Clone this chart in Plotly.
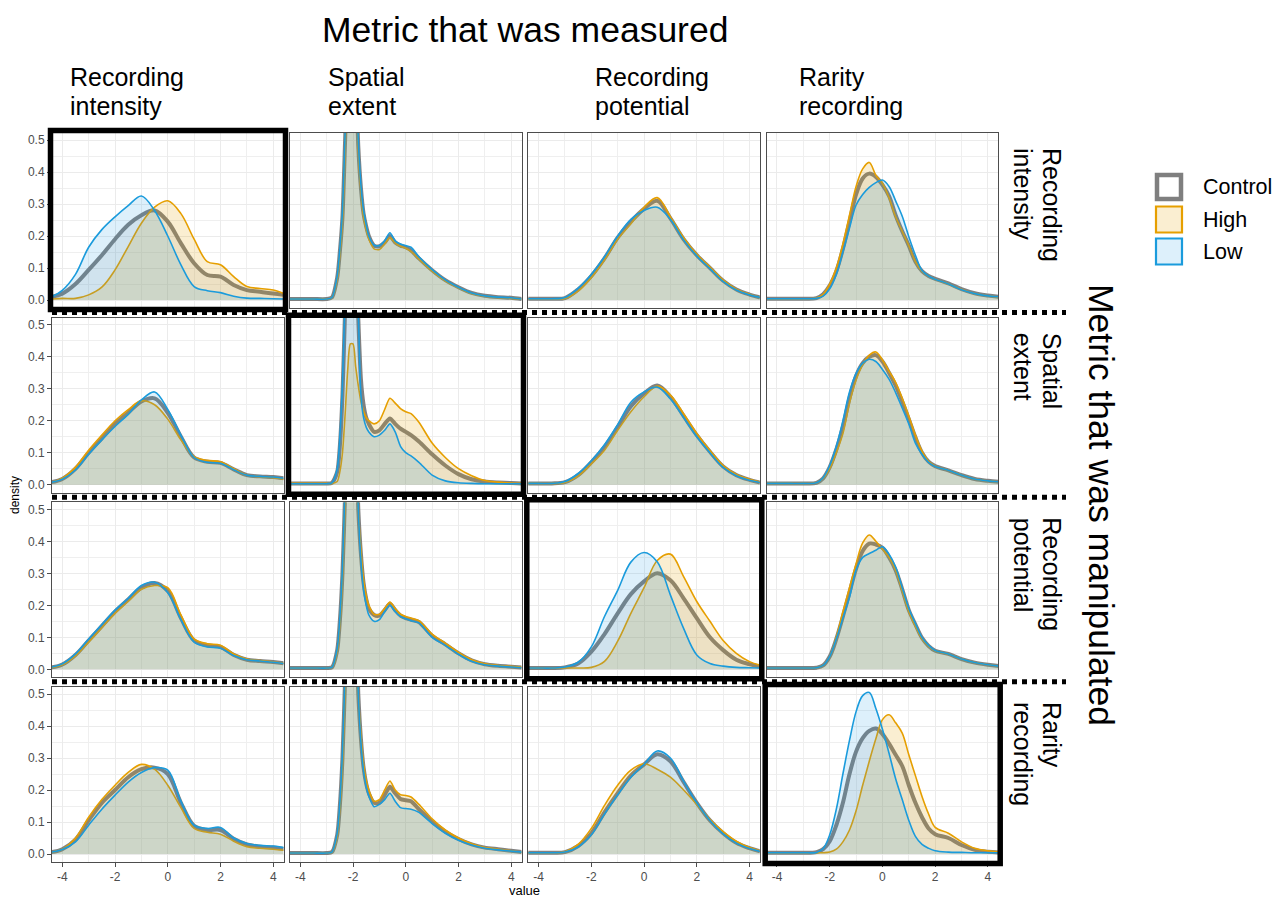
import plotly.graph_objects as go

# page offset of the figure inside the html body (default 8px body margin)
OFF = 8
W, H = 1272, 894

# ---------------- data (densities) ----------------
X_BROAD = [-4.4, -4, -3.5, -3, -2.5, -2, -1.5, -1, -0.5, 0, 0.5, 1, 1.5, 2, 2.5, 3, 3.5, 4, 4.4]
X_SPATIAL = [-4.4, -4, -3.5, -3, -2.8, -2.6, -2.5, -2.4, -2.3, -2.2, -2.1, -2.0, -1.9, -1.8, -1.7,
             -1.6, -1.5, -1.4, -1.2, -1.0, -0.8, -0.6, -0.4, -0.2, 0, 0.2, 0.5, 1, 1.5, 2, 2.5, 3, 3.5, 4, 4.4]
X_RARITY = [-4.4, -4, -3.5, -3, -2.5, -2.25, -2, -1.75, -1.5, -1.25, -1, -0.75, -0.5, -0.25, 0, 0.25,
            0.5, 0.75, 1, 1.25, 1.5, 1.75, 2, 2.5, 3, 3.5, 4, 4.4]

measured = ["Recording\nintensity", "Spatial\nextent", "Recording\npotential", "Rarity\nrecording"]
manipulated = ["Recording\nintensity", "Spatial\nextent", "Recording\npotential", "Rarity\nrecording"]
groups = ["Control", "High", "Low"]

# Row 1: manipulated = Recording intensity
r1c1_control = [.01, .02, .05, .094, .14, .19, .235, .265, .28, .245, .177, .115, .078, .073, .047, .031, .026, .02, .016]
r1c1_high = [.003, .005, .005, .016, .04, .094, .167, .24, .29, .31, .27, .19, .12, .11, .073, .042, .036, .031, .02]
r1c1_low = [.01, .03, .08, .165, .22, .26, .295, .325, .28, .2, .11, .042, .029, .023, .012, .006, .005, .004, .003]

r1c2_control = [.003, .003, .003, .003, .008, .07, .15, .26, .5, .75, .88, .88, .75, .48, .35, .27, .23, .2, .17, .168,
                .18, .2, .18, .17, .165, .155, .13, .093, .062, .04, .022, .013, .009, .007, .003]
r1c2_high = [.003, .003, .003, .003, .007, .065, .14, .25, .48, .72, .86, .86, .73, .47, .34, .26, .22, .19, .16, .158,
             .175, .195, .178, .168, .162, .152, .128, .09, .06, .038, .02, .012, .008, .006, .003]
r1c2_low = [.003, .003, .003, .003, .008, .075, .16, .28, .52, .78, .9, .9, .76, .5, .36, .28, .235, .2, .172, .17,
            .185, .21, .185, .175, .17, .165, .135, .095, .063, .04, .022, .013, .009, .007, .003]

r1c3_control = [.004, .004, .004, .006, .033, .075, .13, .195, .245, .285, .31, .255, .19, .14, .1, .06, .033, .017, .008]
r1c3_high = [.004, .004, .004, .005, .028, .07, .125, .19, .238, .29, .32, .26, .195, .143, .103, .062, .034, .018, .008]
r1c3_low = [.004, .004, .004, .008, .037, .08, .135, .2, .252, .28, .29, .252, .188, .138, .098, .058, .031, .016, .008]

r1c4_control = [.004, .004, .004, .004, .006, .018, .045, .09, .16, .245, .33, .38, .395, .385, .36, .325, .265, .215,
                .17, .12, .09, .075, .066, .052, .034, .021, .014, .01]
r1c4_high = [.004, .004, .004, .004, .006, .018, .05, .1, .175, .265, .355, .41, .43, .39, .365, .32, .26, .215,
             .17, .12, .09, .075, .065, .05, .033, .02, .013, .009]
r1c4_low = [.004, .004, .004, .004, .005, .012, .035, .08, .15, .225, .297, .33, .352, .367, .375, .355, .31, .262,
            .198, .14, .092, .075, .065, .05, .032, .02, .013, .01]

# Row 2: manipulated = Spatial extent
r2c1_control = [.008, .018, .05, .1, .145, .19, .225, .26, .27, .225, .15, .085, .072, .068, .048, .03, .026, .024, .02]
r2c1_high = [.008, .02, .055, .108, .155, .2, .235, .262, .25, .205, .14, .088, .076, .072, .05, .03, .025, .022, .017]
r2c1_low = [.008, .017, .046, .095, .14, .182, .22, .265, .29, .235, .155, .085, .07, .067, .047, .03, .026, .024, .02]

r2c2_control = [.004, .004, .004, .004, .006, .04, .12, .28, .55, .8, .95, .95, .8, .52, .33, .25, .21, .19, .165, .17,
                .19, .207, .19, .175, .165, .155, .135, .095, .06, .033, .017, .01, .007, .005, .004]
r2c2_high = [.004, .004, .004, .004, .004, .01, .04, .1, .22, .36, .44, .44, .37, .31, .26, .23, .21, .2, .19, .2,
             .235, .27, .255, .238, .228, .222, .195, .13, .085, .05, .028, .013, .008, .005, .004]
r2c2_low = [.003, .003, .003, .003, .006, .05, .15, .32, .6, .9, 1.05, 1.0, .85, .55, .28, .21, .18, .165, .15, .155,
            .17, .19, .165, .12, .1, .09, .07, .03, .012, .006, .004, .003, .003, .003, .003]

r2c3_control = [.004, .004, .004, .008, .03, .07, .118, .18, .245, .285, .31, .275, .215, .155, .103, .057, .03, .015, .007]
r2c3_high = [.004, .004, .004, .007, .027, .065, .108, .17, .228, .275, .308, .28, .222, .16, .107, .06, .032, .017, .008]
r2c3_low = [.004, .004, .004, .01, .035, .075, .125, .188, .258, .29, .305, .268, .21, .15, .1, .054, .028, .014, .007]

r2c4_control = [.004, .004, .004, .004, .006, .02, .055, .11, .18, .27, .34, .38, .4, .405, .385, .35, .31, .26,
                .205, .148, .1, .072, .058, .045, .03, .018, .012, .009]
r2c4_high = [.004, .004, .004, .004, .006, .02, .05, .1, .16, .255, .327, .375, .405, .415, .39, .355, .32, .27,
             .215, .155, .105, .073, .058, .045, .03, .018, .012, .009]
r2c4_low = [.004, .004, .004, .004, .006, .022, .06, .12, .2, .29, .348, .38, .392, .385, .36, .33, .288, .24,
            .19, .13, .095, .07, .057, .045, .03, .018, .012, .009]

# Row 3: manipulated = Recording potential
r3c1_control = [.006, .015, .045, .09, .135, .18, .218, .255, .27, .245, .16, .09, .075, .07, .045, .03, .026, .023, .019]
r3c1_high = [.006, .014, .042, .085, .13, .175, .212, .25, .262, .255, .17, .095, .08, .075, .048, .032, .027, .023, .019]
r3c1_low = [.007, .017, .048, .095, .14, .185, .222, .262, .272, .24, .155, .085, .07, .066, .043, .03, .026, .022, .018]

r3c2_control = [.004, .004, .004, .004, .006, .06, .15, .3, .55, .8, .92, .9, .75, .5, .36, .27, .22, .19, .17, .168,
                .185, .205, .185, .168, .16, .155, .148, .105, .078, .05, .028, .016, .011, .008, .006]
r3c2_high = [.004, .004, .004, .004, .006, .055, .14, .29, .53, .78, .9, .88, .74, .5, .37, .28, .23, .2, .172, .172,
             .19, .21, .19, .172, .165, .16, .152, .11, .082, .053, .03, .017, .012, .009, .006]
r3c2_low = [.004, .004, .004, .004, .006, .065, .16, .32, .58, .85, .95, .92, .77, .5, .34, .25, .2, .17, .15, .155,
            .18, .2, .18, .165, .158, .152, .145, .1, .075, .047, .025, .014, .01, .007, .005]

r3c3_control = [.004, .004, .004, .006, .018, .055, .11, .175, .235, .275, .3, .278, .222, .16, .1, .06, .03, .016, .008]
r3c3_high = [.004, .004, .004, .004, .004, .006, .025, .088, .175, .255, .34, .36, .29, .212, .15, .09, .05, .024, .013]
r3c3_low = [.004, .004, .004, .007, .022, .07, .165, .247, .335, .365, .336, .232, .128, .045, .018, .01, .006, .005, .004]

r3c4_control = [.004, .004, .004, .004, .005, .012, .04, .095, .165, .24, .315, .37, .393, .39, .38, .35, .31, .25,
                .185, .14, .098, .073, .058, .048, .032, .021, .014, .01]
r3c4_high = [.004, .004, .004, .004, .005, .012, .04, .1, .18, .255, .33, .395, .42, .4, .375, .35, .31, .245,
             .18, .135, .095, .072, .058, .048, .032, .021, .014, .01]
r3c4_low = [.004, .004, .004, .004, .005, .012, .04, .095, .16, .225, .31, .35, .362, .372, .383, .36, .32, .255,
            .19, .143, .1, .075, .059, .048, .032, .021, .014, .01]

# Row 4: manipulated = Rarity recording
r4c1_control = [.006, .015, .045, .105, .16, .2, .24, .265, .27, .25, .16, .088, .075, .075, .048, .03, .023, .02, .016]
r4c1_high = [.006, .015, .05, .115, .17, .215, .255, .28, .265, .215, .145, .08, .068, .062, .04, .023, .018, .015, .012]
r4c1_low = [.006, .014, .038, .09, .14, .184, .225, .255, .27, .262, .165, .09, .08, .083, .05, .033, .027, .025, .02]

r4c2_control = [.003, .003, .003, .003, .006, .06, .15, .3, .55, .8, .92, .9, .75, .5, .36, .27, .22, .19, .16, .16,
                .185, .21, .19, .172, .168, .165, .14, .102, .07, .047, .03, .02, .015, .01, .006]
r4c2_high = [.003, .003, .003, .003, .005, .055, .14, .28, .53, .78, .9, .88, .74, .5, .37, .28, .23, .2, .165, .17,
             .2, .228, .2, .185, .183, .178, .155, .11, .075, .05, .032, .02, .015, .01, .005]
r4c2_low = [.003, .003, .003, .003, .006, .065, .16, .32, .57, .82, .94, .92, .77, .5, .35, .26, .21, .18, .148, .155,
            .17, .19, .165, .145, .142, .14, .13, .095, .065, .043, .028, .018, .013, .009, .006]

r4c3_control = [.004, .004, .004, .006, .025, .065, .13, .19, .245, .28, .312, .29, .225, .16, .105, .065, .035, .018, .008]
r4c3_high = [.004, .004, .004, .007, .03, .08, .152, .215, .262, .282, .265, .24, .2, .155, .108, .07, .04, .02, .01]
r4c3_low = [.004, .004, .004, .006, .022, .06, .125, .185, .24, .28, .322, .3, .228, .16, .105, .063, .034, .017, .008]

r4c4_control = [.004, .004, .004, .004, .006, .015, .04, .09, .16, .25, .32, .362, .385, .392, .375, .345, .31, .275,
                .215, .16, .115, .08, .062, .05, .028, .013, .007, .005]
r4c4_high = [.004, .004, .004, .004, .004, .004, .006, .015, .038, .075, .135, .215, .29, .36, .42, .435, .41, .378,
             .31, .245, .18, .125, .083, .065, .038, .018, .01, .007]
r4c4_low = [.004, .004, .004, .004, .005, .017, .06, .14, .25, .355, .445, .495, .505, .455, .39, .315, .235, .17,
            .105, .055, .03, .018, .01, .006, .005, .004, .004, .004]

col_x = [X_BROAD, X_SPATIAL, X_BROAD, X_RARITY]
panel_data = {
    (0, 0): (r1c1_control, r1c1_high, r1c1_low), (0, 1): (r1c2_control, r1c2_high, r1c2_low),
    (0, 2): (r1c3_control, r1c3_high, r1c3_low), (0, 3): (r1c4_control, r1c4_high, r1c4_low),
    (1, 0): (r2c1_control, r2c1_high, r2c1_low), (1, 1): (r2c2_control, r2c2_high, r2c2_low),
    (1, 2): (r2c3_control, r2c3_high, r2c3_low), (1, 3): (r2c4_control, r2c4_high, r2c4_low),
    (2, 0): (r3c1_control, r3c1_high, r3c1_low), (2, 1): (r3c2_control, r3c2_high, r3c2_low),
    (2, 2): (r3c3_control, r3c3_high, r3c3_low), (2, 3): (r3c4_control, r3c4_high, r3c4_low),
    (3, 0): (r4c1_control, r4c1_high, r4c1_low), (3, 1): (r4c2_control, r4c2_high, r4c2_low),
    (3, 2): (r4c3_control, r4c3_high, r4c3_low), (3, 3): (r4c4_control, r4c4_high, r4c4_low),
}

# ---------------- styling ----------------
FONT = "Liberation Sans, Arial, sans-serif"
LINE_COL = {"Control": "rgba(115,115,115,0.9)", "High": "#E69F00", "Low": "#1A9BDC"}
FILL_COL = {"Control": "rgba(128,128,128,0.12)", "High": "rgba(230,159,0,0.18)", "Low": "rgba(30,155,225,0.15)"}
LINE_W = {"Control": 4, "High": 1.6, "Low": 1.6}

# panel geometry in page pixels
PX = [52, 290, 528.3, 766.7]
PW = 231.5
PY = [133, 317.7, 502.3, 687]
PH = 175
XR = [-4.39, 4.39]
YR = [-0.025, 0.522]


def fx(x):
    return (x - OFF) / W


def fy(y):
    return 1 - (y - OFF) / H


fig = go.Figure()
layout = dict(width=W, height=H, margin=dict(l=0, r=0, t=0, b=0),
              paper_bgcolor="white", plot_bgcolor="white", showlegend=False,
              font=dict(family=FONT, color="black"))

for r in range(4):
    for c in range(4):
        n = r * 4 + c + 1
        xs = "" if n == 1 else str(n)
        xa = dict(domain=[fx(PX[c]), fx(PX[c] + PW)], anchor="y" + xs, range=XR,
                  showline=True, mirror=True, linecolor="#4d4d4d", linewidth=1,
                  showgrid=True, gridcolor="#EBEBEB", gridwidth=1.3, zeroline=False,
                  tickvals=[-4, -2, 0, 2, 4], ticktext=["-4", "-2", "0", "2", "4"],
                  minor=dict(dtick=1, tick0=0, showgrid=True, gridcolor="#EFEFEF", gridwidth=0.7),
                  showticklabels=(r == 3), ticks="outside" if r == 3 else "",
                  ticklen=4, tickcolor="#4d4d4d", tickfont=dict(size=12, color="#4D4D4D", family=FONT))
        ya = dict(domain=[fy(PY[r] + PH), fy(PY[r])], anchor="x" + xs, range=YR,
                  showline=True, mirror=True, linecolor="#4d4d4d", linewidth=1,
                  showgrid=True, gridcolor="#EBEBEB", gridwidth=1.3, zeroline=False,
                  tick0=0, dtick=0.1, tickformat=".1f",
                  minor=dict(dtick=0.05, tick0=0, showgrid=True, gridcolor="#EFEFEF", gridwidth=0.7),
                  showticklabels=(c == 0), ticks="outside" if c == 0 else "",
                  ticklen=4, tickcolor="#4d4d4d", tickfont=dict(size=12, color="#4D4D4D", family=FONT))
        layout["xaxis" + xs] = xa
        layout["yaxis" + xs] = ya
        ser = panel_data[(r, c)]
        for g, yv in zip(groups, ser):
            fig.add_trace(go.Scatter(
                x=col_x[c], y=yv, mode="lines", name=g, xaxis="x" + xs, yaxis="y" + xs,
                fill="tozeroy", fillcolor=FILL_COL[g],
                line=dict(color=LINE_COL[g], width=LINE_W[g], shape="spline",
                          smoothing=0.7 if c == 1 else 1.0),
                hoverinfo="skip"))

fig.update_layout(**layout)

shapes = []
# dotted separators between rows
for yline in [312.5, 497.2, 681.8]:
    shapes.append(dict(type="line", xref="paper", yref="paper", x0=fx(52), x1=fx(1066),
                       y0=fy(yline), y1=fy(yline), line=dict(color="black", width=5, dash="5px,5px"),
                       layer="above"))
# thick boxes on the diagonal
for k in range(4):
    shapes.append(dict(type="rect", xref="paper", yref="paper",
                       x0=fx(PX[k] - 1.5), x1=fx(PX[k] + PW + 2), y0=fy(PY[k] + PH + 1.5), y1=fy(PY[k] - 2.5),
                       line=dict(color="black", width=5.5), fillcolor="rgba(0,0,0,0)", layer="above"))
# manual legend keys
leg_y = [187, 219.5, 251.5]
for g, yc in zip(groups, leg_y):
    if g == "Control":
        shapes.append(dict(type="rect", xref="paper", yref="paper", x0=fx(1157), x1=fx(1181),
                           y0=fy(yc + 12), y1=fy(yc - 12), line=dict(color="#7f7f7f", width=4.5),
                           fillcolor="white"))
    else:
        shapes.append(dict(type="rect", xref="paper", yref="paper", x0=fx(1156), x1=fx(1182),
                           y0=fy(yc + 13), y1=fy(yc - 13), line=dict(color=LINE_COL[g], width=2.2),
                           fillcolor=FILL_COL[g]))
fig.update_layout(shapes=shapes)

ann = []
ann.append(dict(text="Metric that was measured", x=fx(525), y=fy(30), xref="paper", yref="paper",
                showarrow=False, font=dict(size=35.5, family=FONT, color="black"), xanchor="center", yanchor="middle"))
head_x = [68, 326, 593, 797]
for c in range(4):
    l1, l2 = measured[c].split("\n")
    for txt, yy in [(l1, 77), (l2, 106)]:
        ann.append(dict(text=txt, x=fx(head_x[c]), y=fy(yy), xref="paper", yref="paper", showarrow=False,
                        font=dict(size=25, family=FONT, color="black"), xanchor="left", yanchor="middle"))
for r in range(4):
    l1, l2 = manipulated[r].split("\n")
    for txt, xx in [(l1, 1052), (l2, 1023)]:
        ann.append(dict(text=txt, x=fx(xx), y=fy(PY[r] + 13), xref="paper", yref="paper", showarrow=False,
                        textangle=90, font=dict(size=25, family=FONT, color="black"),
                        xanchor="center", yanchor="top"))
ann.append(dict(text="Metric that was manipulated", x=fx(1101), y=fy(505), xref="paper", yref="paper",
                showarrow=False, textangle=90, font=dict(size=35.5, family=FONT, color="black"),
                xanchor="center", yanchor="middle"))
for g, yc in zip(groups, leg_y):
    ann.append(dict(text=g, x=fx(1201), y=fy(yc), xref="paper", yref="paper", showarrow=False,
                    font=dict(size=21.5, family=FONT, color="black"), xanchor="left", yanchor="middle"))
ann.append(dict(text="density", x=fx(15), y=fy(495), xref="paper", yref="paper", showarrow=False,
                textangle=-90, font=dict(size=12, family=FONT, color="black"), xanchor="center", yanchor="middle"))
ann.append(dict(text="value", x=fx(524), y=fy(890), xref="paper", yref="paper", showarrow=False,
                font=dict(size=13, family=FONT, color="black"), xanchor="center", yanchor="middle"))
fig.update_layout(annotations=ann)

fig.write_html("out.html")
